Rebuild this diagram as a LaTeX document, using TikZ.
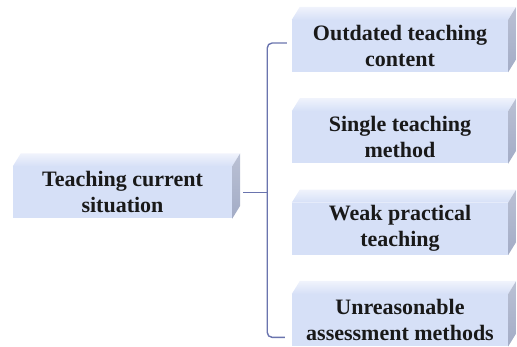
\documentclass[tikz,border=0pt]{standalone}
\usepackage{fontspec}
\setmainfont{Liberation Serif}
\usetikzlibrary{positioning,backgrounds}
\definecolor{face}{HTML}{D6E0F7}
\definecolor{facetop}{HTML}{F0F3FC}
\definecolor{faceside}{HTML}{A3ACC6}
\definecolor{brace}{HTML}{6A74AE}

\tikzset{
  block/.style={fill=face, text=black!90, inner sep=0pt, align=center,
    minimum width=216pt, minimum height=52pt,
    font=\bfseries\fontsize{22}{26}\selectfont},
  bracket/.style={draw=brace, line width=1.4pt, rounded corners=5pt},
}

\begin{document}
\begin{tikzpicture}[x=1pt,y=1pt]
\useasboundingbox (0,0) rectangle (517,347);

\node[block] (c1) at (400,301) {Outdated teaching\\content};
\node[block,below=39pt of c1] (c2) {Single teaching\\method};
\node[block,below=39pt of c2] (c3) {Weak practical\\teaching};
\node[block,below=39pt of c3] (c4) {Unreasonable\\assessment methods};
\node[block,minimum width=219pt] (root) at (122.5,154.5) {Teaching current\\situation};

% top and side faces behind the front faces
\begin{scope}[on background layer]
\foreach \n in {root,c1,c2,c3,c4}{
  \shade[top color=facetop, bottom color=face]
    (\n.north west) -- ++(8,13) -- ([shift={(8,13)}]\n.north east) -- (\n.north east) -- cycle;
  \shade[top color=faceside!75!white, bottom color=faceside]
    (\n.north east) -- ++(8,13) -- ([shift={(8,13)}]\n.south east) -- (\n.south east) -- cycle;
}
\end{scope}

\coordinate (hub) at ([xshift=35pt]root.east);
\draw[bracket] ([xshift=-5pt,yshift=3pt]c1.west) -| (hub) |- ([xshift=-7pt,yshift=9pt]c4.south west);
\draw[bracket,line width=1.8pt] ([xshift=11pt]root.east) -- (hub);
\end{tikzpicture}
\end{document}
